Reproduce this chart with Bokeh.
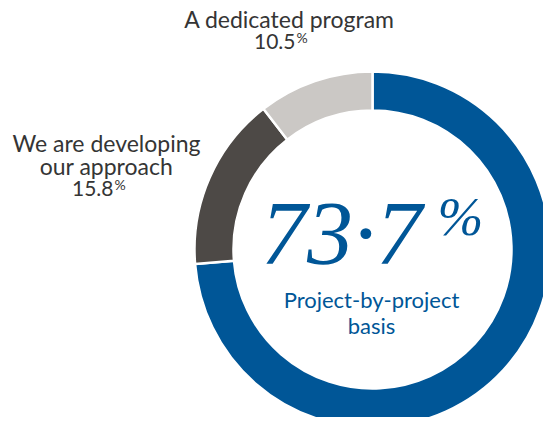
import math
from bokeh.plotting import figure
from bokeh.models import Range1d
from bokeh.core.properties import value
from bokeh.embed import file_html
from bokeh.resources import INLINE

# data
categories = ["Project-by-project basis", "We are developing our approach", "A dedicated program"]
shares = [73.7, 15.8, 10.5]
colors = ["#005697", "#4d4946", "#cbc8c5"]

W, H = 543, 417
PH = 425  # reference picture height
p = figure(width=W, height=H, output_backend="svg", toolbar_location=None,
           x_range=Range1d(0, W), y_range=Range1d(PH - H, PH),
           min_border=0, outline_line_color=None)
p.axis.visible = False
p.grid.visible = False
p.background_fill_color = "white"
p.border_fill_color = "white"

def Y(py):
    return PH - py

cx, cy = 372, Y(249)
r_out, r_in = 178, 139

total = sum(shares)
cum = 0.0
starts, ends = [], []
for s in shares:
    starts.append(math.pi / 2 - 2 * math.pi * cum / total)
    cum += s
    ends.append(math.pi / 2 - 2 * math.pi * cum / total)

p.annular_wedge(x=[cx] * 3, y=[cy] * 3, inner_radius=r_in, outer_radius=r_out,
                start_angle=starts, end_angle=ends, direction="clock",
                fill_color=colors, line_color="white", line_width=2.5)

sans = value("Lato")
grey = "#353535"
blue = "#005697"

def lbl(x, py, txt, size, color=grey, align="center", font=sans, style="normal"):
    # py = desired baseline in picture pixels; compensate for renderer's baseline offset
    adj = 0.36 * size + 1.5
    p.text(x=[x], y=[Y(py - adj)], text=[txt], text_align=align, text_baseline="alphabetic",
           text_font=font, text_font_size=f"{size}px", text_color=color, text_font_style=style)

# top label
lbl(289, 28, "A dedicated program", 23)
lbl(295, 50, f"{shares[2]}", 21, align="right")
lbl(296, 44, "%", 14, align="left")

# left label
lbl(106, 152, "We are developing", 23)
lbl(106, 175, "our approach", 23)
lbl(113, 197, f"{shares[1]}", 21, align="right")
lbl(114, 191, "%", 14, align="left")

# center
serif = value("Liberation Serif")
lbl(341, 267, f"{int(shares[0])}\u00b7{round(shares[0] * 10) % 10}", 92,
    color=blue, font=serif, style="italic")
lbl(437, 237, "%", 55, color=blue, align="left", font=serif, style="italic")
lbl(371, 308, "Project-by-project", 22, color=blue)
lbl(371, 334, "basis", 22, color=blue)

open("out.html", "w").write(file_html(p, INLINE))
